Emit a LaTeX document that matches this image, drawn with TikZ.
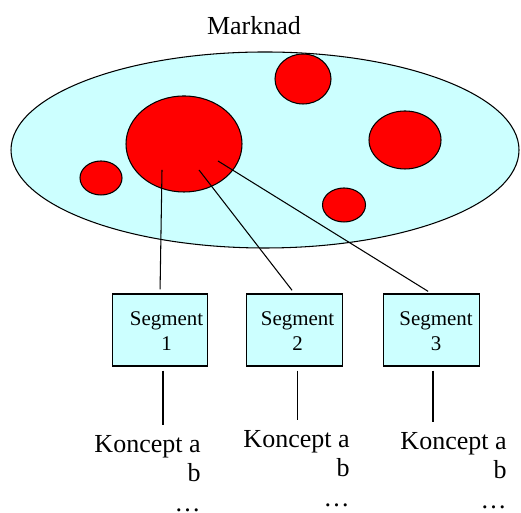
\documentclass[tikz,border=0pt]{standalone}
\usepackage{fontspec}
\setmainfont{Liberation Serif}
\usetikzlibrary{shapes.geometric}

\definecolor{marketcyan}{HTML}{CCFFFF}
\definecolor{blobred}{HTML}{FF0000}

\tikzset{
	market/.style={ellipse, draw, fill=marketcyan, line width=0.6pt, inner sep=0pt},
	blob/.style={ellipse, draw, fill=blobred, line width=0.6pt, inner sep=0pt},
	segbox/.style={draw, fill=marketcyan, line width=0.6pt, minimum width=1.91cm, minimum height=1.44cm, inner sep=0pt},
	segtext/.style={align=center, inner sep=0pt, font=\fontsize{11.9}{14.2}\selectfont},
	concept/.style={align=right, inner sep=0pt, anchor=north east, font=\fontsize{14.8}{16.8}\selectfont},
	link/.style={line width=0.6pt}
}

\begin{document}
\begin{tikzpicture}
			\useasboundingbox (0,0) rectangle (10.42,10.26);
			% market with its segments
			\node[anchor=base, inner sep=0pt, font=\fontsize{14.8}{17.6}\selectfont] (title) at (5.08,9.56) {Marknad};
			\node[market, minimum width=10.16cm, minimum height=3.92cm] (market) at (5.30,7.26) {};
			\node[blob, minimum width=2.32cm, minimum height=1.92cm] (big) at (3.68,7.38) {};
			\node[blob, minimum width=1.12cm, minimum height=1.00cm] (top) at (6.06,8.68) {};
			\node[blob, minimum width=1.44cm, minimum height=1.16cm] (right) at (8.10,7.46) {};
			\node[blob, minimum width=0.84cm, minimum height=0.68cm] (left) at (2.02,6.70) {};
			\node[blob, minimum width=0.86cm, minimum height=0.68cm] (low) at (6.88,6.16) {};
			\coordinate (s1) at (3.24,6.86);
			\coordinate (s2) at (3.98,6.86);
			\coordinate (s3) at (4.36,7.04);
			% segments
			\node[segbox] (seg1) at (3.20,3.66) {};
			\node[segbox] (seg2) at (5.89,3.66) {};
			\node[segbox] (seg3) at (8.63,3.66) {};
			\node[segtext] (seg1txt) at (3.33,3.63) {Segment\\1};
			\node[segtext] (seg2txt) at (5.95,3.63) {Segment\\2};
			\node[segtext] (seg3txt) at (8.72,3.63) {Segment\\3};
			\draw[link, shorten >=0.08cm] (s1) -- (seg1.north);
			\draw[link, shorten >=0.08cm] (s2) -- (seg2.north);
			\draw[link, shorten >=0.08cm] (s3) -- (seg3.north);
			% concepts
			\node[concept] (konc1) at (4.02,1.56) {Koncept a\\b\\…};
			\node[concept] (konc2) at (7.00,1.66) {Koncept a\\b\\…};
			\node[concept] (konc3) at (10.14,1.62) {Koncept a\\b\\…};
			\draw[link, shorten <=0.08cm, shorten >=0.19cm] ([xshift=0.06cm]seg1.south) -- ([xshift=0.06cm]seg1.south |- konc1.north);
			\draw[link, shorten <=0.08cm, shorten >=0.19cm] ([xshift=0.06cm]seg2.south) -- ([xshift=0.06cm]seg2.south |- konc2.north);
			\draw[link, shorten <=0.08cm, shorten >=0.19cm] ([xshift=0.03cm]seg3.south) -- ([xshift=0.03cm]seg3.south |- konc3.north);
\end{tikzpicture}
\end{document}
